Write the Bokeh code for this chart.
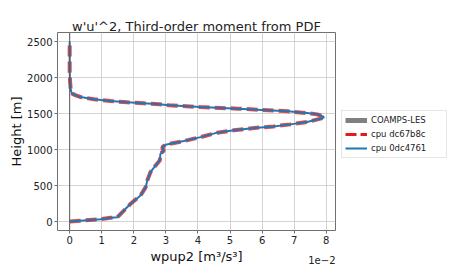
from bokeh.plotting import figure
from bokeh.layouts import row
from bokeh.models import Legend, LegendItem, Span, Title, CustomJSTickFormatter, FixedTicker, Range1d
from bokeh.embed import file_html
from bokeh.resources import INLINE

# ---- data ----
height_m = [0, 32, 51, 60, 107, 246, 362, 477, 570, 686, 779, 848, 941, 987, 1011,
            1033, 1067, 1117, 1172, 1234, 1266, 1298, 1321, 1349, 1381, 1428, 1445,
            1460, 1488, 1506, 1530, 1550, 1567, 1590, 1613, 1627, 1641, 1655, 1673,
            1697, 1729, 1752, 1776, 1798, 1845, 1961, 2100, 2300, 2500]
wpup2_cpu = [0.0, 0.0097, 0.0128, 0.0149, 0.0159, 0.0190, 0.0221, 0.0237, 0.0242,
             0.0252, 0.0268, 0.0281, 0.0283, 0.0294, 0.0290, 0.0289, 0.0299, 0.0356,
             0.0408, 0.0460, 0.0512, 0.0575, 0.0636, 0.0688, 0.0740, 0.0782, 0.0793,
             0.0790, 0.0772, 0.0740, 0.0680, 0.0600, 0.0525, 0.0408, 0.0310, 0.0280,
             0.0230, 0.0180, 0.0128, 0.0076, 0.0034, 0.0019, 0.0008, 0.0005, 0.0003,
             0.0001, 0.0, 0.0, 0.0]
les_height = [float("nan")]   # COAMPS-LES: listed in legend, no data drawn
les_wpup2 = [float("nan")]
x_ticks = [0.0, 0.01, 0.02, 0.03, 0.04, 0.05, 0.06, 0.07, 0.08]
y_ticks = [0, 500, 1000, 1500, 2000, 2500]
series_labels = ["COAMPS-LES", "cpu dc67b8c", "cpu 0dc4761"]

FONT = "DejaVu Sans"
RED, BLUE, GRAY = "#e41a1c", "#1f77b4", "#808080"

p = figure(width=337, height=270, output_backend="svg", toolbar_location=None,
           x_range=Range1d(-0.0038, 0.0829), y_range=Range1d(-125, 2625),
           min_border_left=57, min_border_top=32, min_border_bottom=40, min_border_right=2)

p.title.text = "w'u'^2, Third-order moment from PDF"
p.title.align = "center"
p.title.text_font = FONT
p.title.text_font_size = "13px"
p.title.text_font_style = "normal"
p.title.text_color = "#222222"
p.title.standoff = -2

p.outline_line_color = "#707070"
p.outline_line_width = 1

for ax in (p.xaxis[0], p.yaxis[0]):
    ax.axis_line_color = None
    ax.major_tick_line_color = "#707070"
    ax.major_tick_out = 3
    ax.major_tick_in = 0
    ax.minor_tick_line_color = None
    ax.major_label_standoff = 2
    ax.major_label_text_font = FONT
    ax.major_label_text_font_size = "10px"
    ax.major_label_text_color = "#222222"
    ax.axis_label_text_font = FONT
    ax.axis_label_text_font_size = "13px"
    ax.axis_label_text_font_style = "normal"
    ax.axis_label_text_color = "#111111"

p.xaxis[0].ticker = FixedTicker(ticks=x_ticks)
p.xaxis[0].formatter = CustomJSTickFormatter(code="return (tick*100).toFixed(0);")
p.xaxis[0].axis_label = "wpup2 [m³/s³]"
p.xaxis[0].axis_label_standoff = 2
p.yaxis[0].ticker = FixedTicker(ticks=y_ticks)
p.yaxis[0].axis_label = "Height [m]"
p.yaxis[0].axis_label_standoff = 0

p.grid.grid_line_color = "#c8c8c8"
p.grid.grid_line_width = 0.8
p.xgrid.ticker = FixedTicker(ticks=x_ticks)
p.ygrid.ticker = FixedTicker(ticks=y_ticks)

p.add_layout(Span(location=0, dimension="height", line_color="#5a5a5a", line_width=1))

p.line(les_wpup2, les_height, line_color=GRAY, line_width=5)
p.line(wpup2_cpu, height_m, line_color=RED, line_width=4, line_alpha=0.8, line_dash="11 5")
p.line(wpup2_cpu, height_m, line_color=BLUE, line_width=2)

# axis offset text ("1e−2") as a right-aligned title under the x axis
p.add_layout(Title(text="1e−2", align="right", vertical_align="top", standoff=-22,
                   text_font=FONT, text_font_size="10px", text_font_style="normal",
                   text_color="#222222"), "below")

# legend panel to the right of the plot
q = figure(width=113, height=270, output_backend="svg", toolbar_location=None,
           x_axis_type=None, y_axis_type=None, min_border=0,
           x_range=Range1d(0, 1), y_range=Range1d(0, 1))
q.outline_line_color = None
q.grid.visible = False
g_les = q.line(les_wpup2, les_height, line_color=GRAY, line_width=5)
g_red = q.line(les_wpup2, les_height, line_color=RED, line_width=3, line_dash="11 4")
g_blue = q.line(les_wpup2, les_height, line_color=BLUE, line_width=2)

legend = Legend(items=[LegendItem(label=series_labels[0], renderers=[g_les]),
                       LegendItem(label=series_labels[1], renderers=[g_red]),
                       LegendItem(label=series_labels[2], renderers=[g_blue])],
                location=(4, 72))
legend.label_text_font = FONT
legend.label_text_font_size = "8.5px"
legend.label_text_color = "#222222"
legend.glyph_width = 22
legend.glyph_height = 12
legend.label_height = 12
legend.label_width = 72
legend.spacing = 2
legend.padding = 3
legend.margin = 0
legend.label_standoff = 4
legend.border_line_color = "#cccccc"
legend.border_line_width = 1
q.add_layout(legend)

layout = row(p, q)
html = file_html(layout, INLINE)
open("out.html", "w").write(html)
